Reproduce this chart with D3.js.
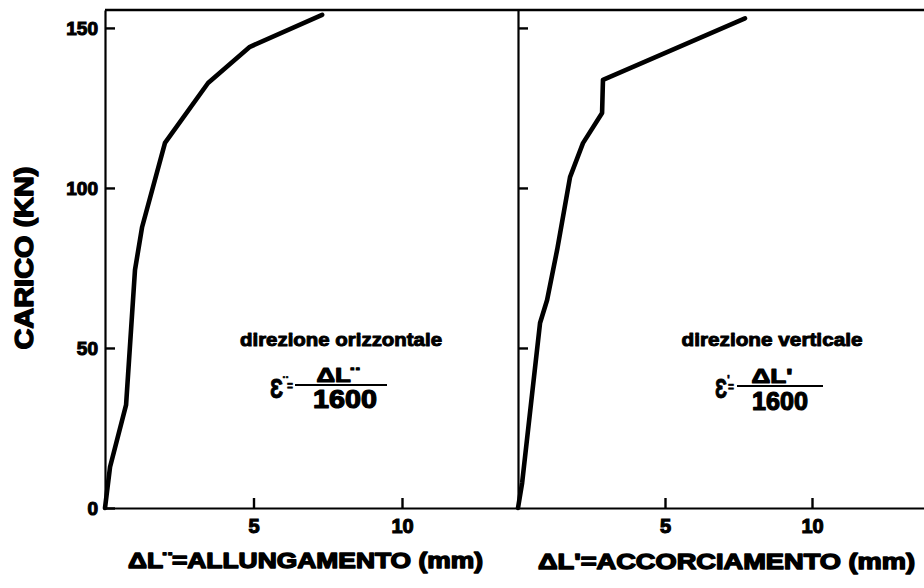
<!DOCTYPE html>
<html>
<head>
<meta charset="utf-8">
<script src="https://cdn.jsdelivr.net/npm/d3@7/dist/d3.min.js"></script>
<style>
  html, body { margin: 0; padding: 0; background: #fff; overflow: hidden; }
  svg { display: block; }
  text { font-family: "Liberation Sans", Arial, sans-serif; font-weight: bold; fill: #000; }
</style>
</head>
<body>
<svg id="chart" width="924" height="588"></svg>
<script>
// Load (kN) ticks and displacement (mm) ticks
const loadTicks = [0, 50, 100, 150];
const mmTicks = [5, 10];

// Horizontal direction: elongation ΔL'' (mm) vs load (kN)
const horizElong = [0, 0.17, 0.71, 1.01, 1.25, 2.02, 3.47, 4.88, 7.31];
const horizLoad  = [0, 12.8, 32.2, 74.4, 87.8, 114.1, 132.8, 144.1, 154.1];

// Vertical direction: shortening ΔL' (mm) vs load (kN)
const vertShort = [0, 0.14, 0.75, 0.99, 1.33, 1.77, 2.21, 2.86, 2.89, 7.72];
const vertLoad  = [0, 7.8, 57.8, 65.0, 80.6, 103.4, 114.0, 123.4, 133.8, 153.0];

const svg = d3.select("#chart");

const y = d3.scaleLinear().domain([0, 155.6]).range([508, 10]);
const xL = d3.scaleLinear().domain([0, 10]).range([105, 402]);
const xR = d3.scaleLinear().domain([0, 10]).range([518, 812]);

const leftEnd = xL.invert(518);
const rightEnd = xR.invert(930);

function styleAxis(g) {
  g.selectAll("path.domain").attr("stroke", "#000").attr("stroke-width", 2.2);
  g.selectAll(".tick line").attr("stroke", "#000").attr("stroke-width", 2.4);
  g.selectAll(".tick text")
    .style("font-family", '"Liberation Sans", Arial, sans-serif')
    .style("font-weight", "bold")
    .attr("fill", "#000")
    .attr("stroke", "#000").attr("stroke-width", 1.1);
}

// Bottom axes (ticks pointing inward)
const xLAxis = d3.axisBottom(d3.scaleLinear().domain([0, leftEnd]).range([xL(0), 518]))
  .tickValues(mmTicks).tickSizeInner(-10).tickSizeOuter(0).tickPadding(11)
  .tickFormat(d3.format("d"));
svg.append("g").attr("transform", "translate(0,508)").call(xLAxis)
  .call(g => g.selectAll("text").attr("font-size", 20)).call(styleAxis);

const xRAxis = d3.axisBottom(d3.scaleLinear().domain([0, rightEnd]).range([xR(0), 930]))
  .tickValues(mmTicks).tickSizeInner(-10).tickSizeOuter(0).tickPadding(11)
  .tickFormat(d3.format("d"));
svg.append("g").attr("transform", "translate(0,508)").call(xRAxis)
  .call(g => g.selectAll("text").attr("font-size", 20)).call(styleAxis);

// Load axes
const yLAxis = d3.axisLeft(y).tickValues(loadTicks).tickSizeInner(-10).tickSizeOuter(0).tickPadding(7);
svg.append("g").attr("transform", `translate(${xL(0)},0)`).call(yLAxis)
  .call(g => g.selectAll("text").attr("font-size", 19)).call(styleAxis);

const yRAxis = d3.axisLeft(y).tickValues(loadTicks.filter(d => d > 0)).tickSizeInner(-10).tickSizeOuter(0).tickFormat("");
svg.append("g").attr("transform", `translate(${xR(0)},0)`).call(yRAxis).call(styleAxis);

// Top frame line
svg.append("line")
  .attr("x1", xL(0)).attr("x2", 930)
  .attr("y1", y(155.6)).attr("y2", y(155.6))
  .attr("stroke", "#000").attr("stroke-width", 2.6);

// Curves
const lineL = d3.line().x(d => xL(d[0])).y(d => y(d[1]));
const lineR = d3.line().x(d => xR(d[0])).y(d => y(d[1]));

svg.append("path")
  .datum(horizElong.map((v, i) => [v, horizLoad[i]]))
  .attr("d", lineL).attr("fill", "none").attr("stroke", "#000")
  .attr("stroke-width", 4.6).attr("stroke-linejoin", "round").attr("stroke-linecap", "round");

svg.append("path")
  .datum(vertShort.map((v, i) => [v, vertLoad[i]]))
  .attr("d", lineR).attr("fill", "none").attr("stroke", "#000")
  .attr("stroke-width", 4.6).attr("stroke-linejoin", "round").attr("stroke-linecap", "round");

// Text helper
function label(x, yy, str, size, len, anchor = "middle", rotate = 0, weight = 1.1) {
  const t = svg.append("text")
    .attr("transform", `translate(${x},${yy}) rotate(${rotate})`)
    .attr("text-anchor", anchor)
    .attr("font-size", size)
    .attr("stroke", "#000").attr("stroke-width", weight)
    .attr("stroke-linejoin", "round")
    .text(str);
  if (len) t.attr("textLength", len).attr("lengthAdjust", "spacingAndGlyphs");
  return t;
}

// Axis titles
label(33, 258, "CARICO (KN)", 25, 183, "middle", -90, 1.4);
label(128, 568, "ΔL¨=ALLUNGAMENTO (mm)", 22, 355, "start", 0, 1.4);
label(538, 569, "ΔL'=ACCORCIAMENTO (mm)", 22, 377, "start", 0, 1.4);

// Annotations: horizontal direction
label(341, 346, "direzione orizzontale", 19, 202, "middle", 0, 1.0);
label(270, 398, "Ɛ", 28, 13, "start", 0, 1.0);
label(283, 387, "¨", 15, null, "start", 0, 0.6);
label(287, 390, "=", 12, 6, "start", 0, 0.6);
svg.append("line").attr("x1", 295).attr("x2", 387).attr("y1", 385).attr("y2", 385)
  .attr("stroke", "#000").attr("stroke-width", 2);
label(338, 382, "ΔL¨", 20, 43, "middle", 0, 1.1);
label(345, 408, "1600", 25, 64, "middle", 0, 1.2);

// Annotations: vertical direction
label(772, 346, "direzione verticale", 19, 181, "middle", 0, 1.0);
label(715, 398, "Ɛ", 28, 12, "start", 0, 1.0);
label(727, 384, "'", 12, null, "start", 0, 0.6);
label(728, 391, "=", 12, 6, "start", 0, 0.6);
svg.append("line").attr("x1", 737).attr("x2", 823).attr("y1", 386).attr("y2", 386)
  .attr("stroke", "#000").attr("stroke-width", 2);
label(772, 383, "ΔL'", 20, 41, "middle", 0, 1.1);
label(780, 410, "1600", 25, 56, "middle", 0, 1.2);
</script>
</body>
</html>
